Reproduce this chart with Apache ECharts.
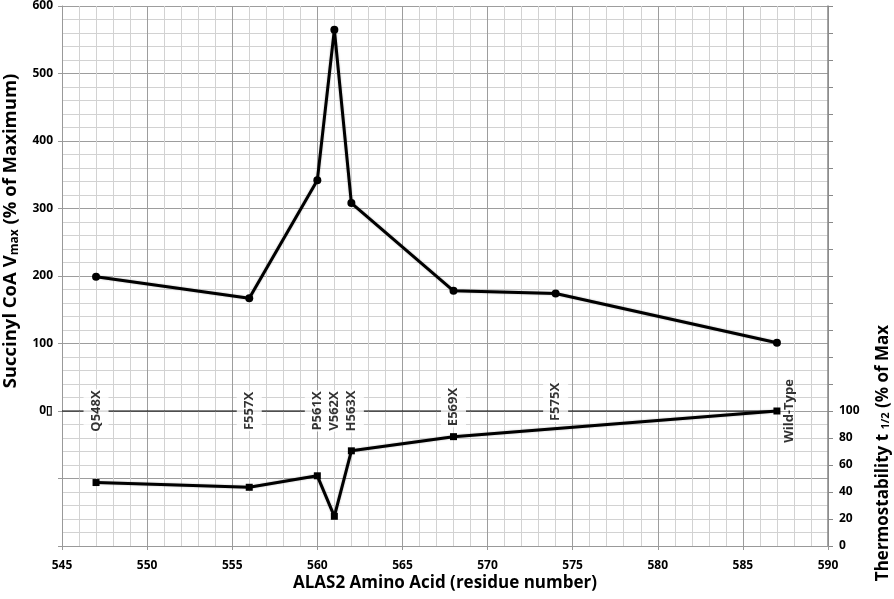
<!DOCTYPE html>
<html>
<head>
<meta charset="utf-8">
<script src="https://cdn.jsdelivr.net/npm/echarts@6/dist/echarts.min.js"></script>
<style>html,body{margin:0;padding:0;background:#fff}#c{width:894px;height:599px}</style>
</head>
<body>
<div id="c"></div>
<script>
// ---- data ----
const vmaxResidues = [547, 556, 560, 561, 562, 568, 574, 587];
const vmaxValues   = [199, 167, 342, 565, 308, 178, 174, 101];
const thermoResidues = [547, 556, 560, 561, 562, 568, 587];
const thermoValues   = [47, 43.5, 52, 22, 70.5, 81, 100];
const mutantResidues = [547, 556, 560, 561, 562, 568, 574, 587];
const mutantNames    = ['Q548X', 'F557X', 'P561X', 'V562X', 'H563X', 'E569X', 'F575X', 'Wild-Type'];
const baselineX = [545, 587];

const FONT = "'Open Sans', sans-serif";
const chart = echarts.init(document.getElementById('c'), null, {renderer: 'canvas'});

// offsets are in the label's rotated frame: [up, right]
const labelOffsets = {'E569X': [4, 0], 'F575X': [9, 0], 'Wild-Type': [0, 12]};

const option = {
  animation: false,
  backgroundColor: '#fff',
  grid: {left: 62, right: 66, top: 3, bottom: 53},
  xAxis: {
    type: 'value', min: 545, max: 590, interval: 5,
    axisLine: {show: true, onZero: false, lineStyle: {color: '#999', width: 1}},
    axisTick: {show: true, length: 4, lineStyle: {color: '#999'}},
    axisLabel: {color: '#000', fontFamily: FONT, fontWeight: 'bold', fontSize: 12, margin: 14},
    splitLine: {show: true, lineStyle: {color: '#9d9d9d', width: 1}},
    minorTick: {show: false, splitNumber: 5},
    minorSplitLine: {show: true, lineStyle: {color: '#d2d2d2', width: 1}}
  },
  yAxis: [{
    type: 'value', min: -200, max: 600, interval: 100, position: 'left',
    axisLine: {show: true, onZero: false, lineStyle: {color: '#999', width: 1}},
    axisTick: {show: true, length: 4, lineStyle: {color: '#999'}},
    axisLabel: {
      color: '#000', fontFamily: FONT, fontWeight: 'bold', fontSize: 12, margin: 9,
      formatter: v => v < 0 ? '' : (v === 0 ? '0\u25AF' : String(v))
    },
    splitLine: {show: true, lineStyle: {color: '#9d9d9d', width: 1}},
    minorTick: {show: false, splitNumber: 5},
    minorSplitLine: {show: true, lineStyle: {color: '#d2d2d2', width: 1}}
  }, {
    type: 'value', min: 0, max: 400, interval: 20, position: 'right',
    axisLine: {show: true, onZero: false, lineStyle: {color: '#888', width: 1.5}},
    axisTick: {show: true, length: 5, lineStyle: {color: '#888'}},
    axisLabel: {
      color: '#000', fontFamily: FONT, fontWeight: 'bold', fontSize: 12, margin: 11,
      formatter: v => v > 100 ? '' : String(v)
    },
    splitLine: {show: false}
  }],
  series: [{
    name: 'baseline', type: 'line', yAxisIndex: 0, z: 2,
    data: baselineX.map(x => [x, 0]), showSymbol: false, symbol: 'none',
    lineStyle: {color: '#000', width: 1}, silent: true
  }, {
    name: 'Succinyl CoA Vmax', type: 'line', yAxisIndex: 0, z: 3,
    data: vmaxResidues.map((x, i) => [x, vmaxValues[i]]),
    symbol: 'circle', symbolSize: 8,
    lineStyle: {color: '#000', width: 3, shadowColor: 'rgba(0,0,0,0.3)', shadowBlur: 2},
    itemStyle: {color: '#000'}
  }, {
    name: 'Thermostability', type: 'line', yAxisIndex: 1, z: 3,
    data: thermoResidues.map((x, i) => [x, thermoValues[i]]),
    symbol: 'rect', symbolSize: 7,
    lineStyle: {color: '#000', width: 3, shadowColor: 'rgba(0,0,0,0.3)', shadowBlur: 2},
    itemStyle: {color: '#000'}
  }, {
    name: 'labels', type: 'scatter', yAxisIndex: 0, z: 4,
    symbolSize: 0.1,
    data: mutantResidues.map((x, i) => ({
      value: [x, 0], name: mutantNames[i],
      label: {offset: labelOffsets[mutantNames[i]] || [0, 0],
              backgroundColor: mutantNames[i] === 'Wild-Type' ? 'transparent' : '#fff'}
    })),
    label: {
      show: true, position: 'inside', rotate: 90,
      formatter: p => p.name,
      color: '#000', fontFamily: FONT, fontWeight: 'bold', fontSize: 13,
      backgroundColor: '#fff', padding: [6, 1, 6, 1]
    }
  }],
  graphic: [{
    type: 'text', x: 11, y: 231, rotation: Math.PI / 2,
    style: {
      text: '{a|Succinyl CoA V}{s|max}{a| (% of Maximum)}',
      align: 'center', verticalAlign: 'middle',
      rich: {
        a: {fontFamily: FONT, fontWeight: 'bold', fontSize: 18.5, fill: '#000', color: '#000'},
        s: {fontFamily: FONT, fontWeight: 'bold', fontSize: 12, fill: '#000', color: '#000', verticalAlign: 'bottom', padding: [6, 0, 0, 0]}
      }
    }
  }, {
    type: 'text', x: 883, y: 453, rotation: Math.PI / 2,
    style: {
      text: '{a|Thermostability t }{s|1/2}{a| (% of Max}',
      align: 'center', verticalAlign: 'middle',
      rich: {
        a: {fontFamily: FONT, fontWeight: 'bold', fontSize: 17, fill: '#000', color: '#000'},
        s: {fontFamily: FONT, fontWeight: 'bold', fontSize: 11, fill: '#000', color: '#000', verticalAlign: 'bottom', padding: [6, 0, 0, 0]}
      }
    }
  }, {
    type: 'text', x: 445, y: 583,
    style: {
      text: 'ALAS2 Amino Acid (residue number)',
      align: 'center', verticalAlign: 'middle',
      fontFamily: FONT, fontWeight: 'bold', fontSize: 17, fill: '#000'
    }
  }]
};
chart.setOption(option);
</script>
</body>
</html>
